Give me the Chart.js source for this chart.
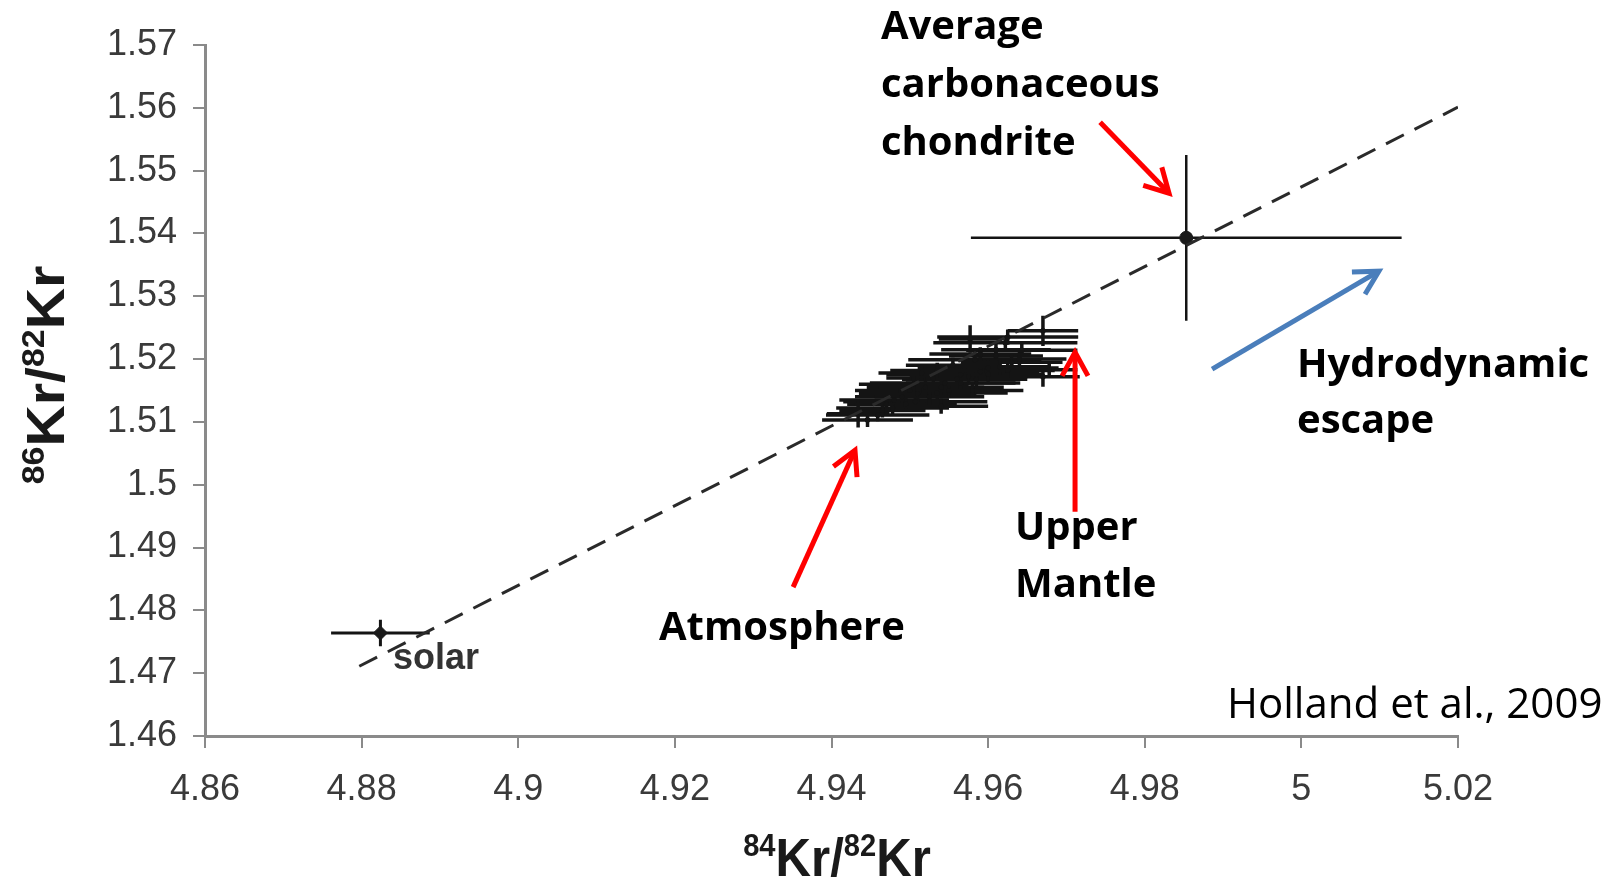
<!DOCTYPE html>
<html>
<head>
<meta charset="utf-8">
<script src="https://cdn.jsdelivr.net/npm/chart.js@4.4.1/dist/chart.umd.min.js"></script>
<style>
  html, body { margin: 0; padding: 0; background: #fff; }
  #wrap { width: 1615px; height: 883px; }
</style>
</head>
<body>
<div id="wrap"><canvas id="kr" width="1615" height="883"></canvas></div>
<script>
const xTickValues = [4.86, 4.88, 4.9, 4.92, 4.94, 4.96, 4.98, 5, 5.02];
const xTickLabels = ['4.86', '4.88', '4.9', '4.92', '4.94', '4.96', '4.98', '5', '5.02'];
const yTickValues = [1.46, 1.47, 1.48, 1.49, 1.5, 1.51, 1.52, 1.53, 1.54, 1.55, 1.56, 1.57];
const yTickLabels = ['1.46', '1.47', '1.48', '1.49', '1.5', '1.51', '1.52', '1.53', '1.54', '1.55', '1.56', '1.57'];

// solar
const solarX = [4.8824];
const solarY = [1.4764];
const solarXErr = [0.0063];
const solarYErr = [0.0021];

// average carbonaceous chondrite
const chondriteX = [4.9853];
const chondriteY = [1.5393];
const chondriteXErr = [0.0275];
const chondriteYErr = [0.0132];

// upper mantle / atmosphere samples
const mantleX = [4.9670, 4.9625, 4.9577, 4.9622, 4.9643, 4.9583, 4.9600, 4.9670, 4.9565, 4.9545,
                 4.9535, 4.9507, 4.9478, 4.9459, 4.9446, 4.9434, 4.9520, 4.9560, 4.9590, 4.9555,
                 4.9610, 4.9530, 4.9500, 4.9490, 4.9678, 4.9630, 4.9470, 4.9515,
                 4.9480, 4.9495, 4.9510, 4.9525, 4.9540, 4.9550, 4.9565, 4.9575, 4.9585, 4.9600,
                 4.9615, 4.9625, 4.9640, 4.9610, 4.9590, 4.9535, 4.9505, 4.9465, 4.9540, 4.9580];
const mantleY = [1.5245, 1.5235, 1.5232, 1.5226, 1.5214, 1.5199, 1.5186, 1.5172, 1.5175, 1.5162,
                 1.5146, 1.5132, 1.5122, 1.5111, 1.5103, 1.5113, 1.5155, 1.5168, 1.5180, 1.5190,
                 1.5205, 1.5170, 1.5150, 1.5140, 1.5183, 1.5195, 1.5128, 1.5178,
                 1.5135, 1.5128, 1.5145, 1.5140, 1.5155, 1.5150, 1.5162, 1.5172, 1.5168, 1.5176,
                 1.5188, 1.5182, 1.5200, 1.5215, 1.5208, 1.5182, 1.5160, 1.5118, 1.5125, 1.5150];
const mantleXErr = [0.0045, 0.0090, 0.0040, 0.0092, 0.0071, 0.0085, 0.0090, 0.0047, 0.0095, 0.0096,
                    0.0090, 0.0092, 0.0072, 0.0066, 0.0058, 0.0040, 0.0075, 0.0070, 0.0075, 0.0060,
                    0.0060, 0.0060, 0.0070, 0.0060, 0.0036, 0.0065, 0.0050, 0.0055,
                    0.0070, 0.0065, 0.0075, 0.0070, 0.0080, 0.0065, 0.0070, 0.0075, 0.0065, 0.0070,
                    0.0065, 0.0060, 0.0060, 0.0070, 0.0065, 0.0060, 0.0070, 0.0055, 0.0060, 0.0065];
const mantleYErr = [0.0024, 0.0012, 0.0022, 0.0010, 0.0010, 0.0012, 0.0012, 0.0016, 0.0012, 0.0012,
                    0.0010, 0.0012, 0.0010, 0.0010, 0.0011, 0.0022, 0.0015, 0.0015, 0.0013, 0.0012,
                    0.0013, 0.0012, 0.0012, 0.0013, 0.0010, 0.0012, 0.0012, 0.0010,
                    0.0012, 0.0011, 0.0013, 0.0012, 0.0012, 0.0011, 0.0012, 0.0013, 0.0012, 0.0012,
                    0.0012, 0.0011, 0.0012, 0.0012, 0.0011, 0.0012, 0.0012, 0.0011, 0.0012, 0.0012];

// dashed mixing / fractionation line
const lineX = [4.8797, 5.02];
const lineY = [1.4711, 1.5601];

// arrows, in data units: [x0, y0, x1, y1]
const redArrows = [
  [4.9743, 1.5577, 4.9831, 1.5464],
  [4.9351, 1.4837, 4.9430, 1.5055],
  [4.9711, 1.4957, 4.9711, 1.5211]
];
const blueArrows = [
  [4.9886, 1.5184, 5.0099, 1.5340]
];

const toPoints = (xs, ys) => xs.map((v, i) => ({ x: v, y: ys[i] }));

const errorSets = [
  { x: mantleX, y: mantleY, dx: mantleXErr, dy: mantleYErr, width: 3.5 },
  { x: solarX, y: solarY, dx: solarXErr, dy: solarYErr, width: 3 },
  { x: chondriteX, y: chondriteY, dx: chondriteXErr, dy: chondriteYErr, width: 2.5 }
];

const errorBars = {
  id: 'errorBars',
  beforeDatasetsDraw(chart) {
    const { ctx, scales: { x, y } } = chart;
    ctx.save();
    ctx.strokeStyle = '#141414';
    errorSets.forEach(s => {
      ctx.lineWidth = s.width;
      s.x.forEach((xv, i) => {
        const px = x.getPixelForValue(xv);
        const py = y.getPixelForValue(s.y[i]);
        ctx.beginPath();
        ctx.moveTo(x.getPixelForValue(xv - s.dx[i]), py);
        ctx.lineTo(x.getPixelForValue(xv + s.dx[i]), py);
        ctx.moveTo(px, y.getPixelForValue(s.y[i] - s.dy[i]));
        ctx.lineTo(px, y.getPixelForValue(s.y[i] + s.dy[i]));
        ctx.stroke();
      });
    });
    ctx.restore();
  }
};

function arrow(ctx, x0, y0, x1, y1, color) {
  const a = Math.atan2(y1 - y0, x1 - x0);
  const head = 27, spread = 0.5;
  ctx.strokeStyle = color;
  ctx.lineWidth = 5;
  ctx.lineCap = 'butt';
  ctx.lineJoin = 'miter';
  ctx.beginPath();
  ctx.moveTo(x0, y0);
  ctx.lineTo(x1 - Math.cos(a) * 2, y1 - Math.sin(a) * 2);
  ctx.stroke();
  ctx.beginPath();
  ctx.moveTo(x1 - head * Math.cos(a - spread), y1 - head * Math.sin(a - spread));
  ctx.lineTo(x1, y1);
  ctx.lineTo(x1 - head * Math.cos(a + spread), y1 - head * Math.sin(a + spread));
  ctx.stroke();
}

// isotope ratio title with superscripts; sx stretches it along its length
function isoLabel(ctx, parts, cx, cy, rot, sx) {
  const mainFont = 'bold 54px "Liberation Sans", Arial, sans-serif';
  const supFont = 'bold 32px "Liberation Sans", Arial, sans-serif';
  ctx.save();
  ctx.translate(cx, cy);
  ctx.rotate(rot);
  ctx.scale(sx, 1);
  let total = 0;
  parts.forEach(p => { ctx.font = p[1] ? supFont : mainFont; total += ctx.measureText(p[0]).width; });
  let pos = -total / 2;
  ctx.fillStyle = '#1a1a1a';
  ctx.textBaseline = 'alphabetic';
  ctx.textAlign = 'left';
  parts.forEach(p => {
    ctx.font = p[1] ? supFont : mainFont;
    ctx.fillText(p[0], pos, p[1] ? -20 : 0);
    pos += ctx.measureText(p[0]).width;
  });
  ctx.restore();
}

const notes = {
  id: 'notes',
  afterDraw(chart) {
    const { ctx, scales: { x, y } } = chart;
    ctx.save();

    redArrows.forEach(a => arrow(ctx, x.getPixelForValue(a[0]), y.getPixelForValue(a[1]),
      x.getPixelForValue(a[2]), y.getPixelForValue(a[3]), '#ff0000'));
    blueArrows.forEach(a => arrow(ctx, x.getPixelForValue(a[0]), y.getPixelForValue(a[1]),
      x.getPixelForValue(a[2]), y.getPixelForValue(a[3]), '#4a7ebb'));

    ctx.fillStyle = '#000';
    ctx.textAlign = 'left';
    ctx.textBaseline = 'alphabetic';
    ctx.font = 'bold 40px "Open Sans", Lato, sans-serif';
    ctx.fillText('Average', 881, 39);
    ctx.fillText('carbonaceous', 881, 97);
    ctx.fillText('chondrite', 881, 155);
    ctx.fillText('Hydrodynamic', 1297, 377);
    ctx.fillText('escape', 1297, 433);
    ctx.fillText('Upper', 1015, 540);
    ctx.fillText('Mantle', 1015, 597);
    ctx.fillText('Atmosphere', 659, 640);
    ctx.font = '42px "Open Sans", Lato, sans-serif';
    ctx.fillText('Holland et al., 2009', 1227, 718);

    ctx.fillStyle = '#333';
    ctx.font = 'bold 36px "Liberation Sans", Arial, sans-serif';
    ctx.fillText('solar', 393, 669);

    isoLabel(ctx, [['84', 1], ['Kr/', 0], ['82', 1], ['Kr', 0]], 837, 876, 0, 0.91);
    isoLabel(ctx, [['86', 1], ['Kr/', 0], ['82', 1], ['Kr', 0]], 64, 375, -Math.PI / 2, 1.06);
    ctx.restore();
  }
};

const tickFont = { family: '"Liberation Sans", Arial, sans-serif', size: 36 };

new Chart(document.getElementById('kr'), {
  type: 'scatter',
  data: {
    datasets: [
      {
        type: 'line',
        data: toPoints(lineX, lineY),
        borderColor: '#2a2a2a',
        borderWidth: 3,
        borderDash: [20, 12],
        pointRadius: 0,
        fill: false
      },
      {
        data: toPoints(mantleX, mantleY),
        backgroundColor: '#141414',
        borderColor: '#141414',
        pointRadius: 2.5
      },
      {
        data: toPoints(solarX, solarY),
        pointStyle: 'rectRot',
        backgroundColor: '#1a1a1a',
        borderColor: '#1a1a1a',
        pointRadius: 7
      },
      {
        data: toPoints(chondriteX, chondriteY),
        pointStyle: 'circle',
        backgroundColor: '#1a1a1a',
        borderColor: '#1a1a1a',
        pointRadius: 6.5
      }
    ]
  },
  options: {
    responsive: false,
    animation: false,
    layout: { padding: { top: 45, right: 157, left: 0, bottom: 0 } },
    plugins: { legend: { display: false }, tooltip: { enabled: false } },
    scales: {
      x: {
        type: 'linear',
        min: 4.86,
        max: 5.02,
        afterBuildTicks: s => { s.ticks = xTickValues.map(v => ({ value: v })); },
        afterFit: s => { s.height = 147; },
        ticks: {
          callback: (v, i) => xTickLabels[i],
          font: tickFont,
          color: '#3a3a3a',
          padding: 20,
          maxRotation: 0,
          autoSkip: false
        },
        grid: { drawOnChartArea: false, drawTicks: true, tickLength: 12, color: '#8a8a8a', lineWidth: 2 },
        border: { color: '#8a8a8a', width: 3 }
      },
      y: {
        type: 'linear',
        min: 1.46,
        max: 1.57,
        afterBuildTicks: s => { s.ticks = yTickValues.map(v => ({ value: v })); },
        afterFit: s => { s.width = 205; },
        ticks: {
          callback: (v, i) => yTickLabels[i],
          font: tickFont,
          color: '#3a3a3a',
          padding: 16,
          autoSkip: false
        },
        grid: { drawOnChartArea: false, drawTicks: true, tickLength: 12, color: '#8a8a8a', lineWidth: 2 },
        border: { color: '#8a8a8a', width: 3 }
      }
    }
  },
  plugins: [errorBars, notes]
});
</script>
</body>
</html>
